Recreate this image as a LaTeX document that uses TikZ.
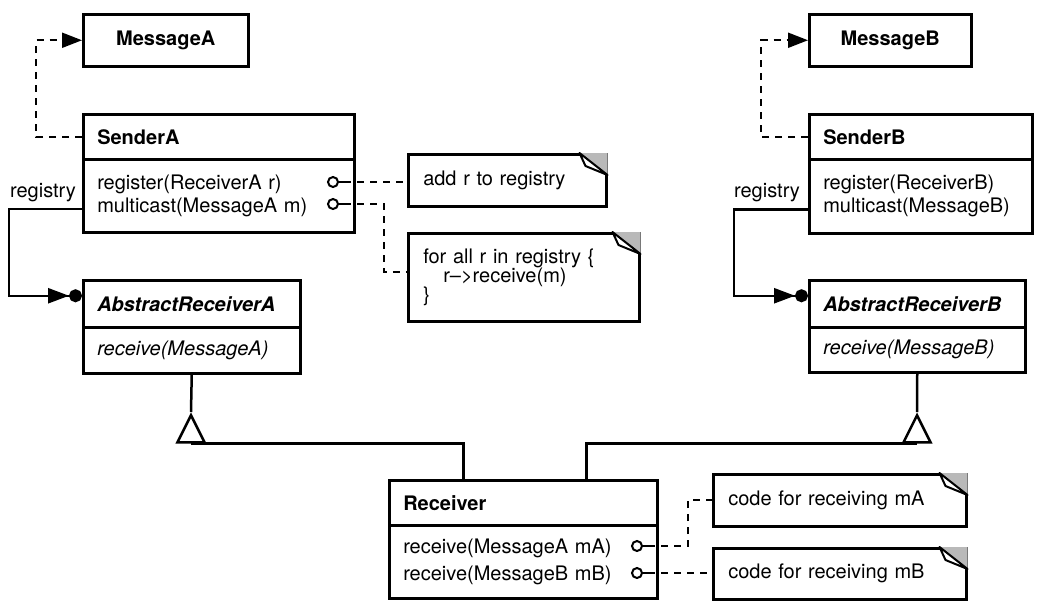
\documentclass[tikz,border=0pt]{standalone}
\usepackage{fontspec}
\setmainfont{TeX Gyre Heros}
\usetikzlibrary{arrows.meta,shapes.geometric,calc}
\newcommand\dogear[1]{%
  \fill[gray!55] ($(#1.north east)+(-28,0)$) -- (#1.north east) -- ($(#1.north east)+(0,22)$) -- cycle;
  \filldraw[fill=white, line width=2pt, line join=round] ($(#1.north east)+(-28,0)$) -- ($(#1.north east)+(-22,13)$) -- ($(#1.north east)+(0,22)$) -- cycle;}
\begin{document}
\begin{tikzpicture}[x=1pt,y=-1pt,
  every node/.style={font=\fontsize{20}{21}\selectfont},
  cls/.style={draw, line width=2.5pt, anchor=north west, inner xsep=14pt, inner ysep=0pt, align=left},
  msg/.style={draw, line width=2.5pt, anchor=north west, inner sep=0pt, align=center, font=\fontsize{20}{21}\selectfont\bfseries},
  note/.style={draw, line width=2.5pt, anchor=north west, inner xsep=15pt, inner ysep=0pt, align=left},
  dep/.style={line width=2pt, dash pattern=on 7pt off 6pt},
  solidline/.style={line width=2.5pt},
  port/.style={circle, draw, line width=2pt, minimum size=10pt, inner sep=0pt, fill=white},
  tri/.style={isosceles triangle, isosceles triangle stretches, shape border rotate=90, draw, line width=2.5pt, minimum width=27pt, minimum height=27pt, inner sep=0pt, fill=white, anchor=apex}
]
\useasboundingbox (0,0) rectangle (1041,606);

% ---- left side
\node[msg, minimum width=165pt, minimum height=52pt] (mA) at (82,13) {MessageA};
\node[cls, text width=243pt, minimum height=45pt] (sA) at (82,113) {\textbf{SenderA}};
\node[cls, text width=243pt, minimum height=73pt] (sAb) at (82,158) {register(ReceiverA r)\\[2pt]multicast(MessageA m)};
\node[cls, text width=189pt, minimum height=47pt] (arA) at (82,279) {\textbf{\textit{AbstractReceiverA}}};
\node[cls, text width=189pt, minimum height=46pt] (arAb) at (82,326) {\textit{receive(MessageA)}};

\node[note, text width=168pt, minimum height=52pt] (n1) at (407,153) {add r to registry};
\node[note, text width=201pt, minimum height=88pt, font=\fontsize{20}{19}\selectfont] (n2) at (407,232) {for all r in registry \{\\\hspace*{20pt}r\textendash{}>receive(m)\\\}};
\dogear{n1}
\dogear{n2}

% ---- right side
\node[msg, minimum width=162pt, minimum height=52pt] (mB) at (808,13) {MessageB};
\node[cls, text width=195pt, minimum height=45pt] (sB) at (808,113) {\textbf{SenderB}};
\node[cls, text width=195pt, minimum height=74pt] (sBb) at (808,158) {register(ReceiverB)\\[2pt]multicast(MessageB)};
\node[cls, text width=188pt, minimum height=47pt] (arB) at (808,279) {\textbf{\textit{AbstractReceiverB}}};
\node[cls, text width=188pt, minimum height=45pt] (arBb) at (808,326) {\textit{receive(MessageB)}};

% ---- receiver
\node[cls, text width=240pt, minimum height=45pt] (rc) at (388,479) {\textbf{Receiver}};
\node[cls, text width=240pt, minimum height=73pt] (rcb) at (388,524) {receive(MessageA mA)\\[6pt]receive(MessageB mB)};
\node[note, text width=223pt, minimum height=52pt] (nA) at (712,473) {code for receiving mA};
\node[note, text width=223pt, minimum height=51pt] (nB) at (712,547) {code for receiving mB};
\dogear{nA}
\dogear{nB}

% ---- ports and note links
\node[port] (p1) at (333,182) {};
\node[port] (p2) at (333,204) {};
\node[port] (p3) at (637,546) {};
\node[port] (p4) at (637,573) {};
\draw[line width=2pt] (p1.east) -- ++(5,0) coordinate (p1s);
\draw[line width=2pt] (p2.east) -- ++(5,0) coordinate (p2s);
\draw[line width=2pt] (p3.east) -- ++(5,0) coordinate (p3s);
\draw[line width=2pt] (p4.east) -- ++(5,0) coordinate (p4s);
\draw[dep] (p1s) -- (n1.west |- p1s);
\draw[dep] (p2s) -- ++(40,0) |- ([yshift=5pt]n2.west);
\draw[dep] (p3s) -- ++(40,0) |- (nA.west);
\draw[dep] (p4s) -- (nB.west |- p4s);

% ---- dependencies to messages
\draw[dep, -{Triangle[length=20pt,width=15pt]}] (sA.west) -- ++(-46,0) |- (mA.west);
\draw[dep, -{Triangle[length=20pt,width=15pt]}] (sB.west) -- ++(-47,0) |- (mB.west);

% ---- registry associations
\node (regA) at (43,193) {registry};
\node (regB) at (767,193) {registry};
\draw[solidline, -{Triangle[length=21pt,width=15pt] Circle[length=13pt]}] ([yshift=-13pt]sAb.west) -- ++(-73,0) |- ([yshift=8pt]arA.west);
\draw[solidline, -{Triangle[length=21pt,width=15pt] Circle[length=13pt]}] ([yshift=-13pt]sBb.west) -- ++(-74,0) |- ([yshift=8pt]arB.west);

% ---- inheritance
\node[tri] (tA) at (191,412) {};
\node[tri] (tB) at (917,412) {};
\draw[solidline] (arAb.south) -- (tA.apex);
\draw[solidline] (arBb.south) -- (tB.apex);
\draw[solidline] (tA.lower side) -| ([xshift=-60pt]rc.north);
\draw[solidline] (tB.lower side) -| ([xshift=63pt]rc.north);
\end{tikzpicture}
\end{document}
